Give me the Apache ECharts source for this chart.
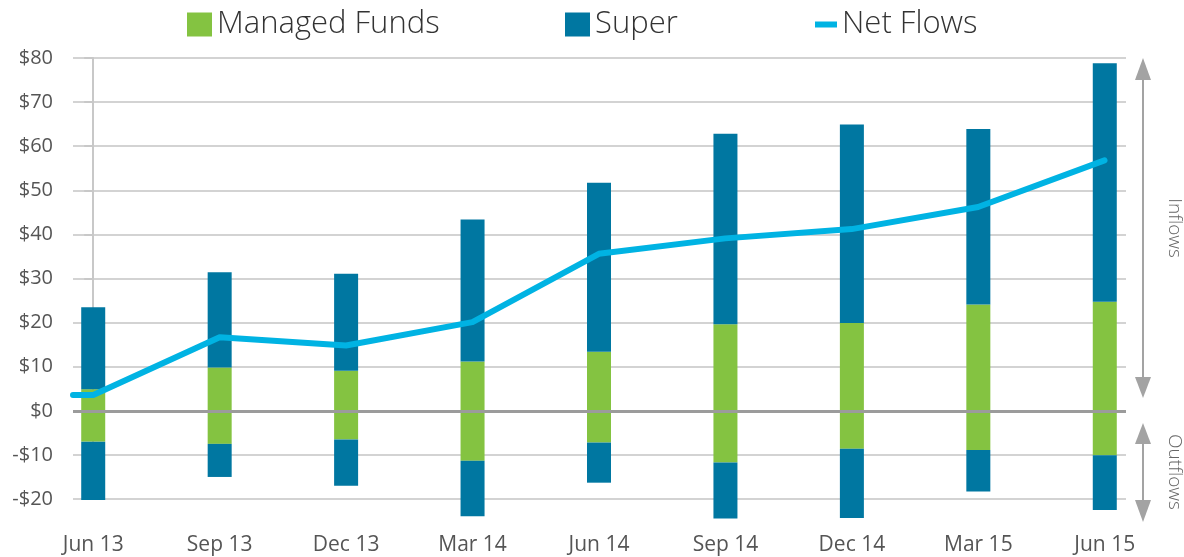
<!DOCTYPE html>
<html>
<head>
<meta charset="utf-8">
<script src="https://cdn.jsdelivr.net/npm/echarts@6/dist/echarts.min.js"></script>
<style>
html,body{margin:0;padding:0;background:#fff;}
#chart{width:1184px;height:557px;}
</style>
</head>
<body>
<div id="chart"></div>
<script>
// quarters
var categories = ['Jun 13','Sep 13','Dec 13','Mar 14','Jun 14','Sep 14','Dec 14','Mar 15','Jun 15'];
// inflow / outflow segments ($bn)
var managedIn  = [4.9, 9.8, 9.1, 11.2, 13.4, 19.6, 19.9, 24.1, 24.7];
var managedOut = [-7.0, -7.5, -6.5, -11.3, -7.2, -11.7, -8.6, -8.9, -10.1];
var superIn    = [18.6, 21.6, 22.0, 32.2, 38.3, 43.2, 45.0, 39.8, 54.1];
var superOut   = [-13.2, -7.5, -10.5, -12.6, -9.1, -12.7, -15.7, -9.4, -12.4];
var netFlows   = [3.6, 16.7, 14.8, 20.1, 35.6, 39.1, 41.2, 46.2, 56.8];

var GREEN = '#84c341', BLUE = '#0077a1', CYAN = '#00b3e3';
var FONT = 'Open Sans';

// value x axis for the line grid, so the line can start at the plot edge
var xMin = -0.16, xMax = 8.17;
var netData = [[xMin, netFlows[0]]];
for (var i = 0; i < netFlows.length; i++) {
	netData.push([i, netFlows[i]]);
}

function moneyLabel(v) {
	return v < 0 ? '-$' + Math.abs(v) : '$' + v;
}

function legendFor(name, left, icon, w, gap) {
	return {
		data: [icon ? {name: name, icon: icon} : name],
		left: left, top: 4,
		itemWidth: w || 25, itemHeight: 24,
		itemGap: 0, itemTextGap: gap || 13,
		selectedMode: false,
		textStyle: {fontFamily: FONT, fontSize: 31, fontWeight: 300, color: '#333'}
	};
}

var chart = echarts.init(document.getElementById('chart'));
var option = {
	animation: false,
	legend: [
		legendFor('Managed Funds', 182, 'rect'),
		legendFor('Super', 560, 'rect'),
		legendFor('Net Flows', 810, 'path://M0,0 L22,0 L22,6 L0,6 Z', 22, 15)
	],
	grid: [
		{left: 30, right: 16, top: 58, bottom: 58},
		{left: 73, right: 58, top: 58, bottom: 58}
	],
	xAxis: [{
		type: 'category',
		gridIndex: 0,
		data: categories,
		axisLine: {show: false},
		axisTick: {show: false},
		axisLabel: {fontFamily: FONT, fontSize: 21, color: '#555', margin: 36}
	}, {
		type: 'value',
		gridIndex: 1,
		min: xMin, max: xMax,
		show: false
	}],
	yAxis: [{
		type: 'value',
		gridIndex: 0,
		min: -20, max: 80,
		show: false
	}, {
		type: 'value',
		gridIndex: 1,
		min: -20, max: 80, interval: 10,
		axisLine: {show: true, lineStyle: {color: '#c8c8c8', width: 2}},
		axisTick: {show: true, length: 9, lineStyle: {color: '#c8c8c8', width: 2}},
		splitLine: {lineStyle: {color: '#d3d3d3', width: 2}},
		axisLabel: {fontFamily: FONT, fontSize: 20, color: '#555', margin: 20, formatter: moneyLabel}
	}],
	series: [{
		name: 'Managed Funds', type: 'bar', stack: 'flow', barWidth: 24, clip: false,
		xAxisIndex: 0, yAxisIndex: 0,
		itemStyle: {color: GREEN}, data: managedIn
	}, {
		name: 'Managed Funds', type: 'bar', stack: 'flow', barWidth: 24, clip: false,
		xAxisIndex: 0, yAxisIndex: 0,
		itemStyle: {color: GREEN}, data: managedOut
	}, {
		name: 'Super', type: 'bar', stack: 'flow', barWidth: 24, clip: false,
		xAxisIndex: 0, yAxisIndex: 0,
		itemStyle: {color: BLUE}, data: superIn
	}, {
		name: 'Super', type: 'bar', stack: 'flow', barWidth: 24, clip: false,
		xAxisIndex: 0, yAxisIndex: 0,
		itemStyle: {color: BLUE}, data: superOut
	}, {
		name: 'Net Flows', type: 'line',
		xAxisIndex: 1, yAxisIndex: 1,
		showSymbol: false, z: 5,
		itemStyle: {color: CYAN},
		lineStyle: {color: CYAN, width: 6, cap: 'round', join: 'round'},
		data: netData,
		markLine: {
			silent: true, symbol: 'none', z: 4,
			label: {show: false},
			lineStyle: {color: '#9b9b9b', width: 3, type: 'solid'},
			data: [{yAxis: 0}]
		}
	}],
	graphic: [
		// inflows arrow
		{type: 'line', shape: {x1: 1143, y1: 76, x2: 1143, y2: 380}, style: {stroke: '#a3a3a3', lineWidth: 2}},
		{type: 'polygon', shape: {points: [[1143, 58], [1135, 80], [1151, 80]]}, style: {fill: '#a3a3a3'}},
		{type: 'polygon', shape: {points: [[1143, 398], [1135, 377], [1151, 377]]}, style: {fill: '#a3a3a3'}},
		// outflows arrow
		{type: 'line', shape: {x1: 1143, y1: 440, x2: 1143, y2: 504}, style: {stroke: '#a3a3a3', lineWidth: 2}},
		{type: 'polygon', shape: {points: [[1143, 423], [1135, 444], [1151, 444]]}, style: {fill: '#a3a3a3'}},
		{type: 'polygon', shape: {points: [[1143, 522], [1135, 500], [1151, 500]]}, style: {fill: '#a3a3a3'}},
		{type: 'text', x: 1174, y: 228, rotation: -Math.PI / 2,
			style: {text: 'Inflows', fill: '#666', font: '300 19px "Open Sans"', align: 'center', verticalAlign: 'middle'}},
		{type: 'text', x: 1174, y: 472, rotation: -Math.PI / 2,
			style: {text: 'Outflows', fill: '#666', font: '300 19px "Open Sans"', align: 'center', verticalAlign: 'middle'}}
	]
};
chart.setOption(option);
</script>
</body>
</html>
